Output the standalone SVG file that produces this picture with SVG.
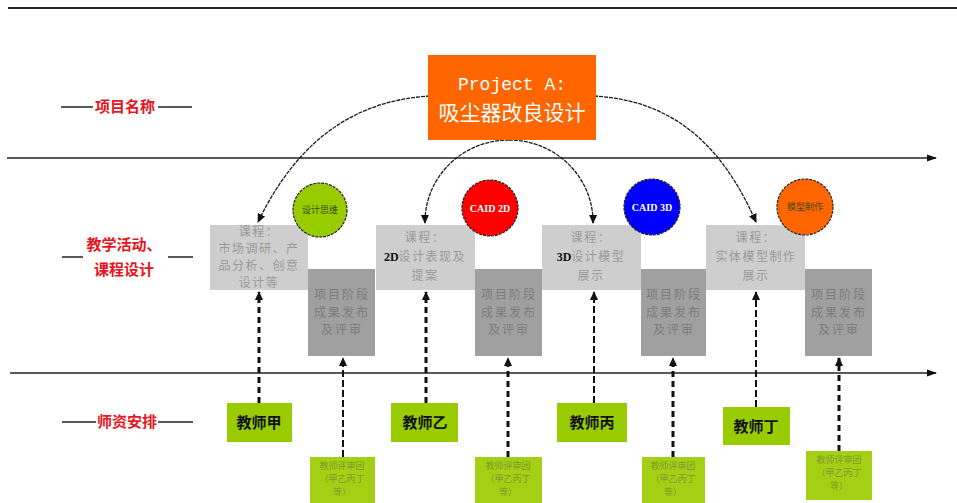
<svg xmlns="http://www.w3.org/2000/svg" width="957" height="503" viewBox="0 0 957 503">
  <style>
    .cjk { font-family: "Noto Sans CJK SC", "Noto Sans", sans-serif; }
    .lbl { font-family: "Noto Sans CJK SC", sans-serif; font-size: 15px; font-weight: bold; fill: #e8141e; text-anchor: middle; }
    .lblline { stroke: #222; stroke-width: 1.5; }
    .axis { stroke: #222; stroke-width: 1.6; fill: none; }
    .light { fill: #cecece; }
    .dark { fill: #a0a0a0; }
    .ltxt { font-family: "Noto Sans CJK SC", sans-serif; font-size: 12px; fill: #9a9a9a; text-anchor: middle; letter-spacing: 1.5px; }
    .dtxt { font-family: "Noto Sans CJK SC", sans-serif; font-size: 12px; fill: #7c7c7c; text-anchor: middle; letter-spacing: 2px; }
    .circ { stroke: #222; stroke-width: 1.2; stroke-dasharray: 3 1; }
    .ctxt { font-family: "Noto Sans CJK SC", sans-serif; font-size: 9px; fill: #3a4a10; text-anchor: middle; }
    .caid { font-family: "Liberation Serif", serif; font-size: 10px; font-weight: bold; fill: #fff; text-anchor: middle; }
    .teach { fill: #99cc00; }
    .ttxt { font-family: "Noto Sans CJK SC", sans-serif; font-size: 15px; font-weight: bold; fill: #111; text-anchor: middle; }
    .jury { fill: #a3cf14; }
    .jtxt { font-family: "Noto Sans CJK SC", sans-serif; font-size: 9px; fill: #7f9a2a; text-anchor: middle; }
    .arc { stroke: #1a1a1a; stroke-width: 1.3; fill: none; stroke-dasharray: 4 1; marker-end: url(#ah); }
    .vthick { stroke: #111; stroke-width: 3; stroke-dasharray: 6 4; fill: none; marker-end: url(#ah); }
    .vthin { stroke: #111; stroke-width: 2; stroke-dasharray: 7 3; fill: none; marker-end: url(#ah); }
  </style>
  <defs>
    <marker id="ah" markerUnits="userSpaceOnUse" markerWidth="10" markerHeight="10" refX="8" refY="5" orient="auto">
      <path d="M0,1 L9,5 L0,9 Z" fill="#111"/>
    </marker>
    <marker id="axh" markerUnits="userSpaceOnUse" markerWidth="10" markerHeight="10" refX="9" refY="5" orient="auto">
      <path d="M0,1.5 L10,5 L0,8.5 Z" fill="#111"/>
    </marker>
  </defs>

  <rect x="0" y="0" width="957" height="503" fill="#ffffff"/>

  <!-- axes -->
  <g id="axes">
    <line x1="8" y1="8" x2="957" y2="8" stroke="#222" stroke-width="2"/>
    <line class="axis" x1="7" y1="158" x2="936" y2="158" marker-end="url(#axh)"/>
    <line class="axis" x1="10" y1="373" x2="936" y2="373" marker-end="url(#axh)"/>
  </g>

  <!-- row labels -->
  <g id="label-project">
    <line class="lblline" x1="61" y1="107" x2="93" y2="107"/>
    <line class="lblline" x1="158" y1="107" x2="192" y2="107"/>
    <text class="lbl" x="125" y="112">项目名称</text>
  </g>
  <g id="label-teaching">
    <line class="lblline" x1="62" y1="257" x2="83" y2="257"/>
    <line class="lblline" x1="168" y1="257" x2="193" y2="257"/>
    <text class="lbl" x="124" y="250">教学活动、</text>
    <text class="lbl" x="124" y="275">课程设计</text>
  </g>
  <g id="label-teachers">
    <line class="lblline" x1="62" y1="422" x2="96" y2="422"/>
    <line class="lblline" x1="158" y1="422" x2="193" y2="422"/>
    <text class="lbl" x="127" y="427">师资安排</text>
  </g>

  <!-- connectors -->
  <g id="connectors">
    <path class="arc" d="M430,96 C360,100 300,135 258,222"/>
    <path class="arc" d="M594,96 C664,100 718,135 756,222"/>
    <path class="arc" d="M509,140 A84,82 0 0 0 425,223"/>
    <path class="arc" d="M509,140 A84,82 0 0 1 593,223"/>
    <path class="vthick" d="M259,403 L259,292"/>
    <path class="vthick" d="M426,403 L426,292"/>
    <path class="vthin" d="M594,403 L594,292"/>
    <path class="vthin" d="M756,407 L756,292"/>
    <path class="vthin" d="M343,457 L343,358"/>
    <path class="vthick" d="M508,457 L508,358"/>
    <path class="vthick" d="M673,457 L673,358"/>
    <path class="vthick" d="M839,451 L839,358"/>
  </g>

  <!-- project -->
  <g id="project-a">
    <rect x="428" y="55" width="168" height="85" fill="#ff6600"/>
    <text x="512" y="90" font-family="Liberation Mono, monospace" font-size="18" fill="#fff" text-anchor="middle">Project A:</text>
    <text x="512" y="120" class="cjk" font-size="21" fill="#fff" text-anchor="middle">吸尘器改良设计</text>
  </g>

  <!-- course boxes -->
  <g id="course-1">
    <rect class="light" x="210" y="225" width="98" height="65"/>
    <text class="ltxt" x="259" y="236">课程：</text>
    <text class="ltxt" x="259" y="253">市场调研、产</text>
    <text class="ltxt" x="259" y="270">品分析、创意</text>
    <text class="ltxt" x="259" y="287">设计等</text>
  </g>
  <g id="review-1">
    <rect class="dark" x="308" y="269" width="67" height="87"/>
    <text class="dtxt" x="342" y="299">项目阶段</text>
    <text class="dtxt" x="342" y="317">成果发布</text>
    <text class="dtxt" x="342" y="334">及评审</text>
  </g>
  <g id="course-2">
    <rect class="light" x="376" y="225" width="99" height="65"/>
    <text class="ltxt" x="425" y="242">课程：</text>
    <text class="ltxt" x="425" y="261"><tspan font-family="Liberation Serif, serif" font-weight="bold" fill="#111" letter-spacing="0">2D</tspan>设计表现及</text>
    <text class="ltxt" x="425" y="280">提案</text>
  </g>
  <g id="review-2">
    <rect class="dark" x="475" y="269" width="67" height="87"/>
    <text class="dtxt" x="509" y="299">项目阶段</text>
    <text class="dtxt" x="509" y="317">成果发布</text>
    <text class="dtxt" x="509" y="334">及评审</text>
  </g>
  <g id="course-3">
    <rect class="light" x="542" y="225" width="99" height="65"/>
    <text class="ltxt" x="591" y="242">课程：</text>
    <text class="ltxt" x="591" y="261"><tspan font-family="Liberation Serif, serif" font-weight="bold" fill="#111" letter-spacing="0">3D</tspan>设计模型</text>
    <text class="ltxt" x="591" y="280">展示</text>
  </g>
  <g id="review-3">
    <rect class="dark" x="641" y="269" width="65" height="87"/>
    <text class="dtxt" x="674" y="299">项目阶段</text>
    <text class="dtxt" x="674" y="317">成果发布</text>
    <text class="dtxt" x="674" y="334">及评审</text>
  </g>
  <g id="course-4">
    <rect class="light" x="706" y="225" width="99" height="65"/>
    <text class="ltxt" x="756" y="242">课程：</text>
    <text class="ltxt" x="756" y="261">实体模型制作</text>
    <text class="ltxt" x="756" y="280">展示</text>
  </g>
  <g id="review-4">
    <rect class="dark" x="805" y="269" width="67" height="87"/>
    <text class="dtxt" x="839" y="299">项目阶段</text>
    <text class="dtxt" x="839" y="317">成果发布</text>
    <text class="dtxt" x="839" y="334">及评审</text>
  </g>

  <!-- stage circles -->
  <g id="stage-design-thinking">
    <circle class="circ" cx="320" cy="210" r="27" fill="#99cc00"/>
    <text class="ctxt" x="320" y="213">设计思维</text>
  </g>
  <g id="stage-caid2d">
    <circle class="circ" cx="490" cy="208" r="28" fill="#ff0000"/>
    <text class="caid" x="490" y="212">CAID 2D</text>
  </g>
  <g id="stage-caid3d">
    <circle class="circ" cx="652" cy="207" r="28" fill="#0000ff"/>
    <text class="caid" x="652" y="211">CAID 3D</text>
  </g>
  <g id="stage-model">
    <circle class="circ" cx="805" cy="207" r="28" fill="#ff6600"/>
    <text class="ctxt" x="805" y="210">模型制作</text>
  </g>

  <!-- teachers -->
  <g id="teacher-jia">
    <rect class="teach" x="227" y="403" width="65" height="39"/>
    <text class="ttxt" x="259" y="428">教师甲</text>
  </g>
  <g id="teacher-yi">
    <rect class="teach" x="391" y="403" width="67" height="39"/>
    <text class="ttxt" x="425" y="428">教师乙</text>
  </g>
  <g id="teacher-bing">
    <rect class="teach" x="557" y="403" width="70" height="39"/>
    <text class="ttxt" x="592" y="428">教师丙</text>
  </g>
  <g id="teacher-ding">
    <rect class="teach" x="723" y="407" width="67" height="38"/>
    <text class="ttxt" x="756" y="432">教师丁</text>
  </g>

  <!-- jury boxes -->
  <g id="jury-1">
    <rect class="jury" x="310" y="457" width="65" height="50"/>
    <text class="jtxt" x="342" y="469">教师评审团</text>
    <text class="jtxt" x="342" y="482">（甲乙丙丁</text>
    <text class="jtxt" x="342" y="495">等）</text>
  </g>
  <g id="jury-2">
    <rect class="jury" x="475" y="457" width="67" height="50"/>
    <text class="jtxt" x="508" y="469">教师评审团</text>
    <text class="jtxt" x="508" y="482">（甲乙丙丁</text>
    <text class="jtxt" x="508" y="495">等）</text>
  </g>
  <g id="jury-3">
    <rect class="jury" x="642" y="457" width="63" height="50"/>
    <text class="jtxt" x="673" y="469">教师评审团</text>
    <text class="jtxt" x="673" y="482">（甲乙丙丁</text>
    <text class="jtxt" x="673" y="495">等）</text>
  </g>
  <g id="jury-4">
    <rect class="jury" x="806" y="451" width="66" height="49"/>
    <text class="jtxt" x="839" y="463">教师评审团</text>
    <text class="jtxt" x="839" y="476">（甲乙丙丁</text>
    <text class="jtxt" x="839" y="489">等）</text>
  </g>
</svg>
